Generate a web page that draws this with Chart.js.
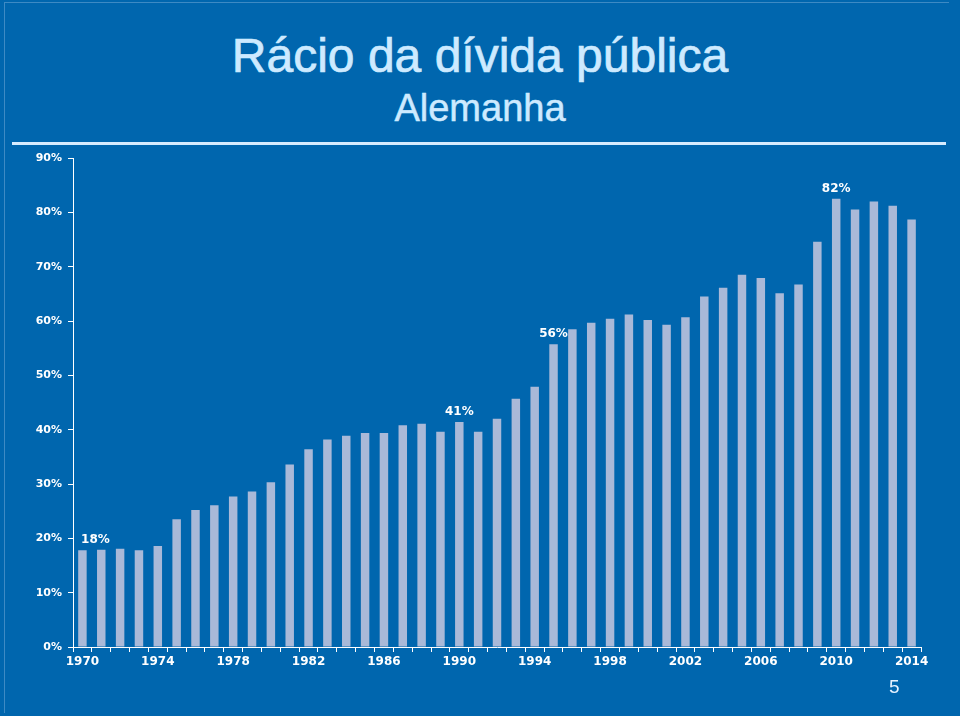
<!DOCTYPE html>
<html lang="pt">
<head>
    <meta charset="UTF-8">
    <title>Rácio da dívida pública - Alemanha</title>
    <script src="https://cdn.jsdelivr.net/npm/chart.js"></script>
    <style>
        html, body {
            margin: 0;
            padding: 0;
        }
        body {
            width: 960px;
            height: 716px;
            background: #0066ae;
            position: relative;
            overflow: hidden;
            font-family: "Liberation Sans", Arial, sans-serif;
        }
        #frame {
            position: absolute;
            left: 4px; top: 2px;
            width: 944px; height: 710px;
            border-left: 1px solid #3d8ac4;
            border-top: 1px solid #3d8ac4;
        }
        #title {
            position: absolute;
            left: 0; width: 960px; top: 28px;
            text-align: center;
            color: #cdeaff;
            font-size: 48px;
            line-height: 56px;
            -webkit-text-stroke: 0.7px #cdeaff;
        }
        #subtitle {
            position: absolute;
            left: 0; width: 960px; top: 86px;
            text-align: center;
            color: #cdeaff;
            font-size: 38px;
            line-height: 44px;
            -webkit-text-stroke: 0.5px #cdeaff;
        }
        #rule {
            position: absolute;
            left: 12px; width: 934px; top: 142px;
            height: 3px;
            background: #d6ecff;
        }
        #pageNum {
            position: absolute;
            left: 889px; top: 676px;
            color: #e6f2ff;
            font-size: 19px;
        }
        #chartBox {
            position: absolute;
            left: 0; top: 140px;
            width: 960px; height: 560px;
        }
    </style>
</head>
<body>
<div id="frame"></div>
<div id="title">Rácio da dívida pública</div>
<div id="subtitle">Alemanha</div>
<div id="rule"></div>
<div id="chartBox"><canvas id="myChart"></canvas></div>
<div id="pageNum">5</div>

<script>
    // years 1970..2014
    const years = [
        1970, 1971, 1972, 1973, 1974, 1975, 1976, 1977, 1978, 1979,
        1980, 1981, 1982, 1983, 1984, 1985, 1986, 1987, 1988, 1989,
        1990, 1991, 1992, 1993, 1994, 1995, 1996, 1997, 1998, 1999,
        2000, 2001, 2002, 2003, 2004, 2005, 2006, 2007, 2008, 2009,
        2010, 2011, 2012, 2013, 2014
    ];
    // debt ratio, % of GDP
    const debtRatio = [
        17.8, 17.9, 18.1, 17.8, 18.6, 23.5, 25.2, 26.1, 27.7, 28.6,
        30.3, 33.6, 36.4, 38.2, 38.9, 39.4, 39.4, 40.8, 41.1, 39.6,
        41.4, 39.6, 42.0, 45.7, 47.9, 55.7, 58.5, 59.7, 60.4, 61.2,
        60.2, 59.3, 60.7, 64.5, 66.1, 68.5, 67.9, 65.1, 66.7, 74.6,
        82.5, 80.5, 82.0, 81.2, 78.7
    ];
    // labelled bars
    const calloutYears = [1970, 1990, 1995, 2010];
    const calloutTexts = ['18%', '41%', '56%', '82%'];

    const white = '#ffffff';
    const fontFamily = '"DejaVu Sans", "Liberation Sans", Arial, sans-serif';
    const tickFont = { family: fontFamily, size: 12, weight: 'bold' };

    // draws the few value labels above the bars
    const calloutPlugin = {
        id: 'callouts',
        afterDatasetsDraw(chart) {
            const ctx = chart.ctx;
            const meta = chart.getDatasetMeta(0);
            ctx.save();
            ctx.fillStyle = white;
            ctx.font = 'bold 12px ' + fontFamily;
            ctx.textAlign = 'center';
            ctx.textBaseline = 'bottom';
            calloutYears.forEach((yr, i) => {
                const bar = meta.data[years.indexOf(yr)];
                // first label sits a bit to the right, clear of the axis
                const dx = i === 0 ? 13 : 0;
                ctx.fillText(calloutTexts[i], bar.x + dx, bar.y - 4);
            });
            ctx.restore();
        }
    };

    new Chart(document.getElementById('myChart'), {
        type: 'bar',
        data: {
            labels: years,
            datasets: [{
                data: debtRatio,
                backgroundColor: '#a9b9d8',
                barPercentage: 0.45,
                categoryPercentage: 1.0
            }]
        },
        options: {
            responsive: true,
            maintainAspectRatio: false,
            animation: false,
            layout: { padding: { left: 0, right: 39, top: 18, bottom: 0 } },
            plugins: {
                legend: { display: false },
                tooltip: { enabled: false }
            },
            scales: {
                x: {
                    offset: true,
                    border: { display: true, color: white, width: 1 },
                    grid: {
                        offset: true,
                        drawOnChartArea: false,
                        drawTicks: true,
                        tickLength: 5,
                        color: white
                    },
                    ticks: {
                        color: white,
                        font: tickFont,
                        autoSkip: false,
                        maxRotation: 0,
                        padding: 3,
                        callback: function(value) {
                            const yr = years[value];
                            return (yr - 1970) % 4 === 0 ? String(yr) : '';
                        }
                    },
                    afterFit: function(scale) { scale.height = 53; }
                },
                y: {
                    min: 0,
                    max: 90,
                    border: { display: true, color: white, width: 1 },
                    grid: {
                        drawOnChartArea: false,
                        drawTicks: true,
                        tickLength: 5,
                        color: white
                    },
                    ticks: {
                        stepSize: 10,
                        color: white,
                        font: { family: fontFamily, size: 11, weight: 'bold' },
                        padding: 6,
                        callback: v => v + '%'
                    },
                    afterFit: function(scale) { scale.width = 73; }
                }
            }
        },
        plugins: [calloutPlugin]
    });
</script>
</body>
</html>
